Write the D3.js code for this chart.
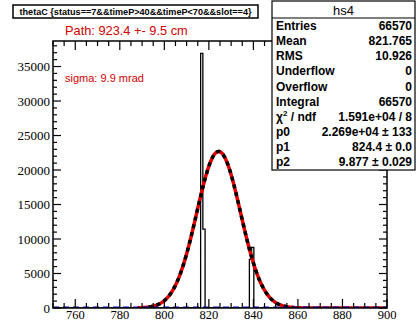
<!DOCTYPE html>
<html><head><meta charset="utf-8">
<script src="https://cdn.jsdelivr.net/npm/d3@7"></script>
<style>body{margin:0;background:#fff}svg{display:block}</style>
</head><body>
<svg id="c" width="416" height="322"></svg>
<script>
// ---- data ----
const binEdges   = [750, 816.3, 817.3, 818.3, 838.2, 839.2, 840.2, 900];
const binCounts  = [0, 36900, 11430, 0, 7040, 8780, 0];
const fitParams  = [22690, 824.4, 9.877];          // p0, p1, p2
const redRange   = [788, 900];
const blackRange = [793, 858];
const xTicks     = [760, 780, 800, 820, 840, 860, 880, 900];
const yTicks     = [0, 5000, 10000, 15000, 20000, 25000, 30000, 35000];
const statLabels = ["Entries","Mean","RMS","Underflow","Overflow","Integral","χ2 / ndf","p0","p1","p2"];
const statValues = ["66570","821.765","10.926","0","0","66570","1.591e+04 / 8","2.269e+04 ± 133","824.4 ± 0.0","9.877 ± 0.029"];
const titleText  = "thetaC {status==7&&timeP>40&&timeP<70&&slot==4}";
const pathText   = "Path: 923.4 +- 9.5 cm";
const sigmaText  = "sigma: 9.9 mrad";

const svg = d3.select("#c");
const L=53, R=387, T=41, B=308;
const x = d3.scaleLinear().domain([750, 900]).range([L, R]);
const y = d3.scaleLinear().domain([0, 38700]).range([B, T]);

svg.append("defs").append("clipPath").attr("id","clip")
  .append("rect").attr("x",L).attr("y",T).attr("width",R-L).attr("height",B-T);

const plot = svg.append("g").attr("clip-path","url(#clip)");

// histogram outline
let hp = [];
for (let i=0;i<binCounts.length;i++){
  hp.push([binEdges[i], binCounts[i]]);
  hp.push([binEdges[i+1], binCounts[i]]);
}
const line = d3.line().x(d=>x(d[0])).y(d=>y(d[1]));
plot.append("path").attr("d", line(hp)).attr("fill","none")
  .attr("stroke","#000").attr("stroke-width",1.3);

// fit curve
const gaus = v => fitParams[0]*Math.exp(-0.5*Math.pow((v-fitParams[1])/fitParams[2],2));
function curve(r){ const pts=[]; for(let v=r[0]; v<=r[1]+1e-9; v+=0.25) pts.push([v,gaus(v)]); return pts; }
plot.append("path").attr("d", line(curve(redRange))).attr("fill","none")
  .attr("stroke","#e00000").attr("stroke-width",3.5);
plot.append("path").attr("d", line(curve(blackRange))).attr("fill","none")
  .attr("stroke","#000").attr("stroke-width",3.5).attr("stroke-dasharray","4,4");
// blue dashed baseline
plot.append("path").attr("d", line([[750,0],[900,0]])).attr("fill","none")
  .attr("stroke","#0000e0").attr("stroke-width",3).attr("stroke-dasharray","6,4");

// frame
svg.append("rect").attr("x",L).attr("y",T).attr("width",R-L).attr("height",B-T)
  .attr("fill","none").attr("stroke","#000").attr("stroke-width",1.5);

const ax = svg.append("g").attr("stroke","#000").attr("stroke-width",1.2);
// x ticks (bottom & top)
d3.range(750, 900.01, 5).forEach(v=>{
  const major = xTicks.includes(v);
  const len = major ? 9 : 5;
  ax.append("line").attr("x1",x(v)).attr("x2",x(v)).attr("y1",B).attr("y2",B-len);
  ax.append("line").attr("x1",x(v)).attr("x2",x(v)).attr("y1",T).attr("y2",T+len);
});
// y ticks (left & right)
d3.range(0, 38700, 1000).forEach(v=>{
  const major = yTicks.includes(v);
  const len = major ? 8 : 4;
  ax.append("line").attr("x1",L).attr("x2",L+len).attr("y1",y(v)).attr("y2",y(v));
  ax.append("line").attr("x1",R).attr("x2",R-len).attr("y1",y(v)).attr("y2",y(v));
});
// tick labels
svg.append("g").selectAll("text").data(xTicks).join("text")
  .attr("x",d=>x(d)).attr("y",319).attr("text-anchor","middle")
  .attr("font-family","Liberation Serif").attr("font-size",12.5).text(d=>d);
svg.append("g").selectAll("text").data(yTicks).join("text")
  .attr("x",50).attr("y",d=>y(d)+4.5).attr("text-anchor","end")
  .attr("font-family","Liberation Serif").attr("font-size",13).text(d=>d);

// title box
svg.append("rect").attr("x",13).attr("y",5).attr("width",245).attr("height",13)
  .attr("fill","#fff").attr("stroke","#000").attr("stroke-width",1.5);
svg.append("text").attr("x",135.5).attr("y",15).attr("text-anchor","middle")
  .attr("font-family","Liberation Sans").attr("font-weight","bold").attr("font-size",9.1)
  .text(titleText);

// annotations
svg.append("text").attr("x",65).attr("y",35).attr("fill","#d00000")
  .attr("font-family","Liberation Sans").attr("font-size",12.8).text(pathText);
svg.append("text").attr("x",65).attr("y",82).attr("fill","#d00000")
  .attr("font-family","Liberation Sans").attr("font-size",11).text(sigmaText);

// stats box
const sb = svg.append("g");
sb.append("rect").attr("x",272).attr("y",1).attr("width",143).attr("height",169)
  .attr("fill","#fff").attr("stroke","#000").attr("stroke-width",1.2);
sb.append("line").attr("x1",272).attr("x2",415).attr("y1",18).attr("y2",18)
  .attr("stroke","#000").attr("stroke-width",1.2);
sb.append("text").attr("x",343.5).attr("y",14.5).attr("text-anchor","middle")
  .attr("font-family","Liberation Sans").attr("font-size",13).text("hs4");
statLabels.forEach((s,i)=>{
  const yy = 30 + i*15.15;
  const t = sb.append("text").attr("x",276).attr("y",yy)
    .attr("font-family","Liberation Sans").attr("font-weight","bold").attr("font-size",12);
  if (s.startsWith("χ2")) {
    t.append("tspan").text("χ");
    t.append("tspan").attr("font-size",8).attr("dy",-5).text("2");
    t.append("tspan").attr("dy",5).text(" / ndf");
  } else t.text(s);
  sb.append("text").attr("x",412).attr("y",yy).attr("text-anchor","end")
    .attr("font-family","Liberation Sans").attr("font-weight","bold").attr("font-size",12)
    .text(statValues[i]);
});
</script>
</body></html>
